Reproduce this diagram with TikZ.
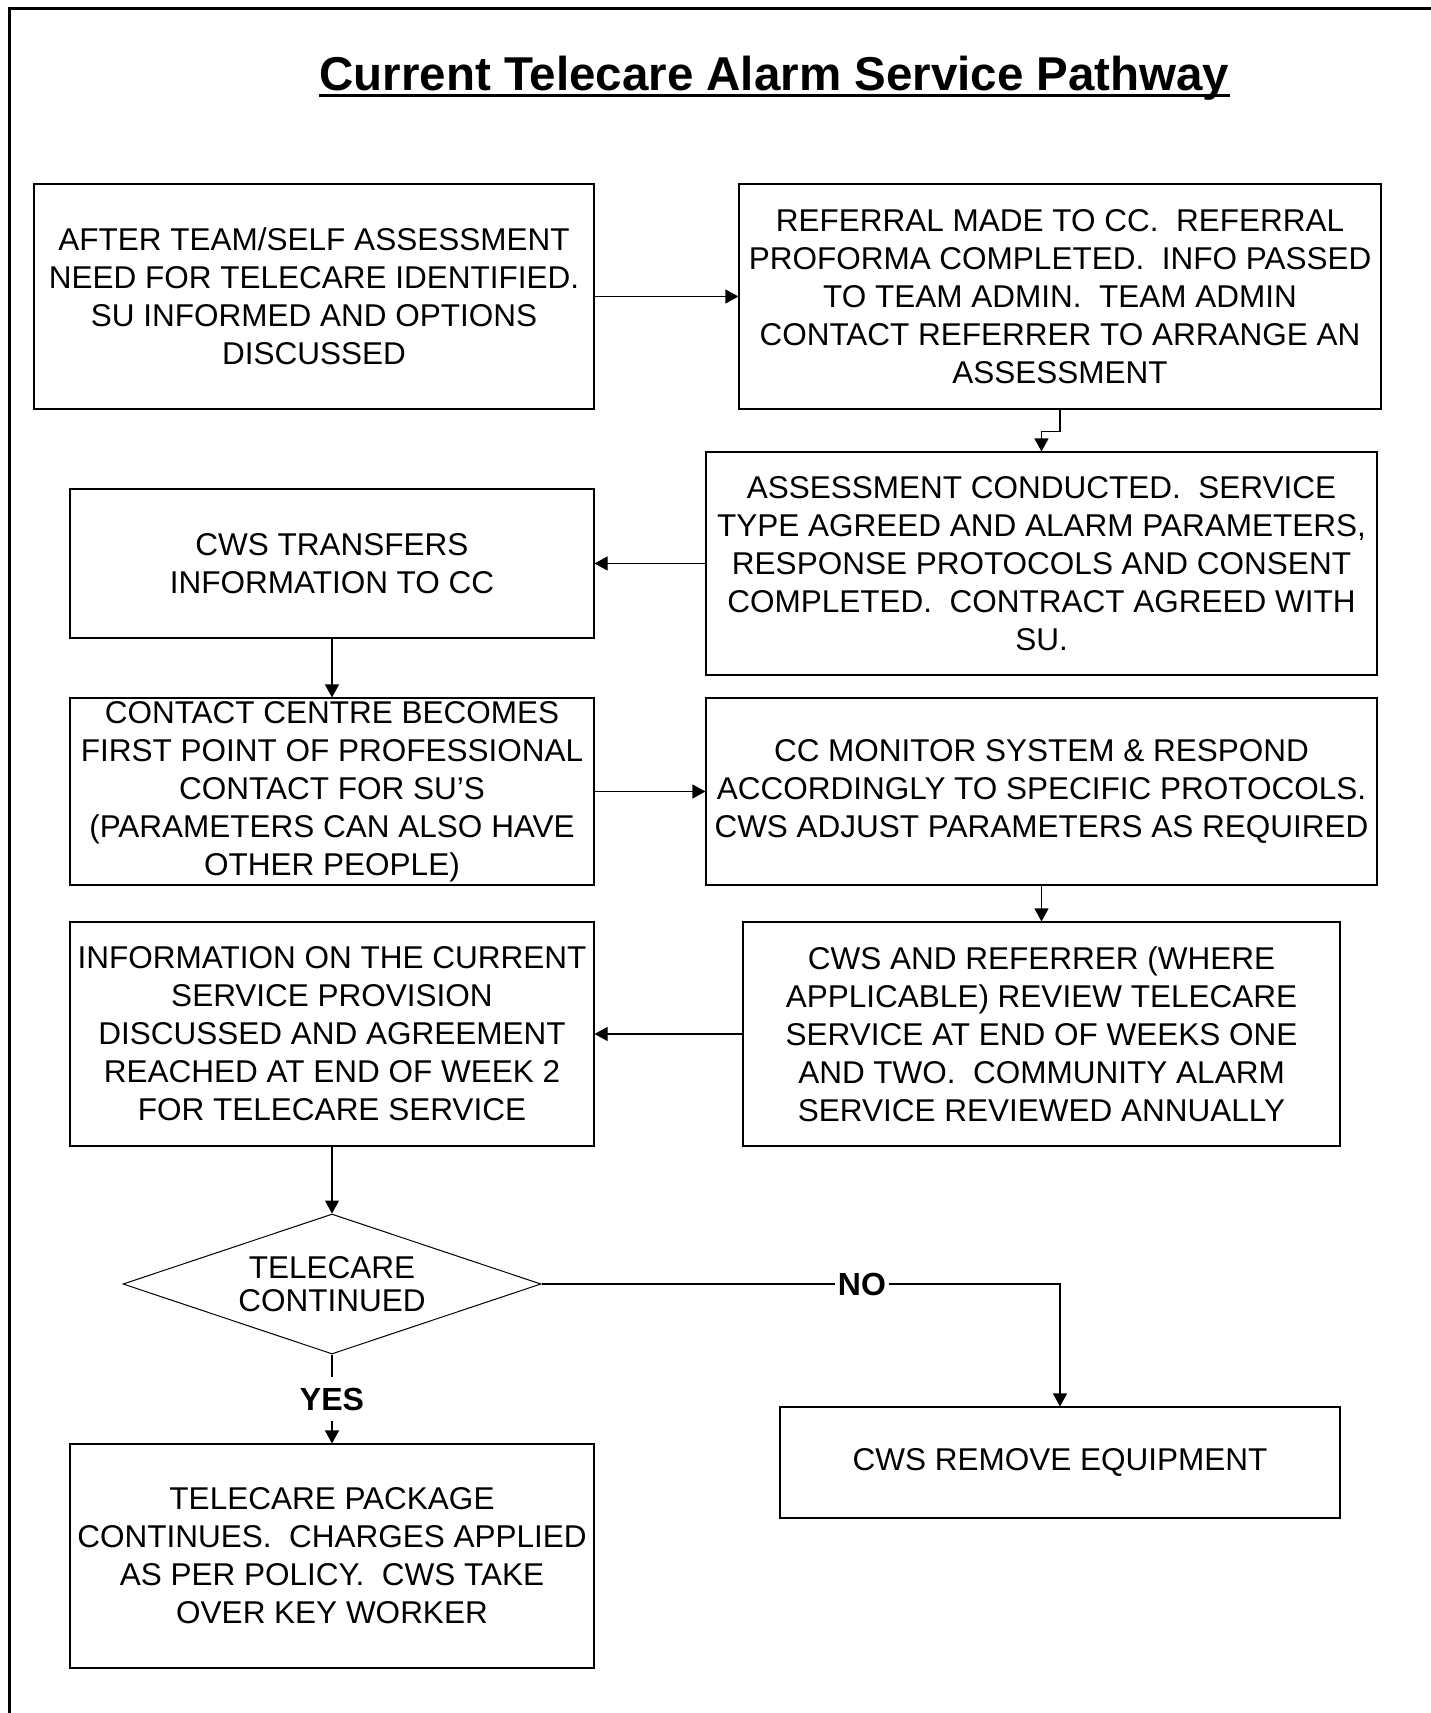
\documentclass[tikz,border=0pt]{standalone}
\usepackage{fontspec}
\setmainfont{Liberation Sans}
\usetikzlibrary{arrows.meta,shapes.geometric}
\begin{document}
\begin{tikzpicture}[x=1pt,y=-1pt,
  box/.style={draw, line width=1.1pt, inner sep=0pt, align=center, font=\fontsize{31.5}{38}\selectfont},
  arr/.style={line width=1.1pt, -{Triangle[width=14pt,length=13pt]}},
  lbl/.style={fill=white, font=\bfseries\fontsize{32}{38}\selectfont, inner xsep=3pt}]
\useasboundingbox (0,0) rectangle (1431,1713);
\draw[line width=2.2pt] (9.5,1800) -- (9.5,8.5) -- (1500,8.5);
% title
\node[inner sep=0pt, anchor=base, font=\bfseries\fontsize{47.5}{50}\selectfont] (title) at (774.5,90) {Current Telecare Alarm Service Pathway};
\draw[line width=3pt] ([yshift=-5.5pt]title.base west) -- ([yshift=-5.5pt]title.base east);
% boxes
\node[box, minimum width=560pt, minimum height=225pt] (A) at (314,296.5)
  {AFTER TEAM/SELF ASSESSMENT\\NEED FOR TELECARE IDENTIFIED.\\SU INFORMED AND OPTIONS\\DISCUSSED};
\node[box, minimum width=642pt, minimum height=225pt] (B) at (1060,296.5)
  {REFERRAL MADE TO CC.~~REFERRAL\\PROFORMA COMPLETED.~~INFO PASSED\\TO TEAM ADMIN.~~TEAM ADMIN\\CONTACT REFERRER TO ARRANGE AN\\ASSESSMENT};
\node[box, minimum width=671pt, minimum height=223pt] (C) at (1041.5,563.5)
  {ASSESSMENT CONDUCTED.~~SERVICE\\TYPE AGREED AND ALARM PARAMETERS,\\RESPONSE PROTOCOLS AND CONSENT\\COMPLETED.~~CONTRACT AGREED WITH\\SU.};
\node[box, minimum width=524pt, minimum height=149pt] (D) at (332,563.5)
  {CWS TRANSFERS\\INFORMATION TO CC};
\node[box, minimum width=524pt, minimum height=187pt] (E) at (332,791.5)
  {CONTACT CENTRE BECOMES\\FIRST POINT OF PROFESSIONAL\\CONTACT FOR SU’S\\(PARAMETERS CAN ALSO HAVE\\OTHER PEOPLE)};
\node[box, minimum width=671pt, minimum height=187pt] (F) at (1041.5,791.5)
  {CC MONITOR SYSTEM \& RESPOND\\ACCORDINGLY TO SPECIFIC PROTOCOLS.\\CWS ADJUST PARAMETERS AS REQUIRED};
\node[box, minimum width=597pt, minimum height=224pt] (G) at (1041.5,1034)
  {CWS AND REFERRER (WHERE\\APPLICABLE) REVIEW TELECARE\\SERVICE AT END OF WEEKS ONE\\AND TWO.~~COMMUNITY ALARM\\SERVICE REVIEWED ANNUALLY};
\node[box, minimum width=524pt, minimum height=224pt] (H) at (332,1034)
  {INFORMATION ON THE CURRENT\\SERVICE PROVISION\\DISCUSSED AND AGREEMENT\\REACHED AT END OF WEEK 2\\FOR TELECARE SERVICE};
\node[draw, line width=1pt, diamond, aspect=3, minimum width=418pt, minimum height=140pt, inner sep=0pt, align=center, font=\fontsize{31.5}{33}\selectfont] (K) at (332,1284)
  {TELECARE\\CONTINUED};
\node[box, minimum width=560pt, minimum height=111pt] (I) at (1060,1462.5)
  {CWS REMOVE EQUIPMENT};
\node[box, minimum width=524pt, minimum height=224pt] (J) at (332,1556)
  {TELECARE PACKAGE\\CONTINUES.~~CHARGES APPLIED\\AS PER POLICY.~~CWS TAKE\\OVER KEY WORKER};
% connectors
\draw[arr] (A.east) -- (B.west);
\draw[arr] (B.south) -- ++(0,22) -| (C.north);
\draw[arr] (C.west) -- (D.east);
\draw[arr] (D.south) -- (E.north);
\draw[arr] (E.east) -- (F.west);
\draw[arr] (F.south) -- (G.north);
\draw[arr] (G.west) -- (H.east);
\draw[arr] (H.south) -- (K.north);
\draw[arr] (K.east) -| node[lbl, pos=0.309] {NO} (I.north);
\draw[arr] (K.south) -- node[lbl, inner ysep=11pt] {YES} (J.north);
\end{tikzpicture}
\end{document}
